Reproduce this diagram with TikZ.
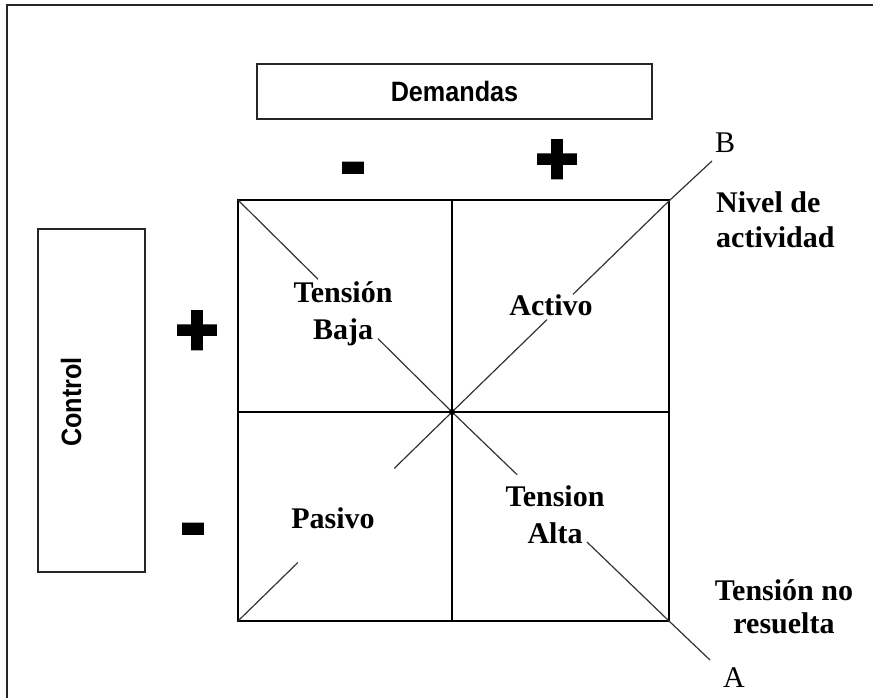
\documentclass[tikz,border=0pt]{standalone}
\usepackage{fontspec}
\usepackage{graphicx}
\usetikzlibrary{calc}
\setmainfont{Liberation Serif}
\newfontfamily\headsans{Liberation Sans}
\newfontfamily\signfont[FakeBold=5]{Liberation Sans Bold}

\tikzset{
  frameline/.style={line width=2pt, draw=black!85},
  boxline/.style={draw=black!85, line width=1.6pt},
  gridline/.style={line width=1.8pt, draw=black},
  diagline/.style={line width=1.2pt, draw=black!80},
  headtext/.style={font=\headsans\bfseries\fontsize{28}{30}\selectfont, inner sep=0pt},
  signtext/.style={font=\signfont\fontsize{72}{72}\selectfont, inner sep=0pt},
  quadtext/.style={font=\bfseries\fontsize{30}{37}\selectfont, align=center, inner sep=0pt, anchor=base},
  sidetext/.style={font=\bfseries\fontsize{30}{35}\selectfont, inner sep=0pt, anchor=base},
  endtext/.style={font=\fontsize{30}{36}\selectfont, inner sep=0pt, anchor=base},
}

\begin{document}
\begin{tikzpicture}[x=1pt, y=-1pt]
  \useasboundingbox (0,0) rectangle (873,698);

  % outer frame, running past the right and bottom edges
  \draw[frameline] (6.5,5) rectangle (890,720);

  % axis boxes
  \node[boxline, minimum width=395pt, minimum height=55pt, inner sep=0pt]
    (dem) at (454.5,91.5) {};
  \node[headtext] (demtxt) at (dem.center) {\scalebox{0.9}[1]{Demandas}};
  \node[boxline, minimum width=107pt, minimum height=343pt, inner sep=0pt]
    (ctlbox) at (91.5,400.5) {};
  \node[headtext, rotate=90] (ctl) at (71,402) {\scalebox{0.9}[1]{Control}};

  % signs on the axes
  \node[signtext] (dminus) at (353,175) {-};
  \node[signtext] (dplus)  at (557,162) {+};
  \node[signtext] (cplus)  at (197,333) {+};
  \node[signtext] (cminus) at (193,536) {-};

  % the square and its quadrants
  \coordinate (TL) at (238,200);
  \coordinate (TR) at (670,200);
  \coordinate (BL) at (238,621);
  \coordinate (BR) at (669,621);
  \coordinate (C)  at (452,412);
  \coordinate (Aend) at (710,660);
  \coordinate (Bend) at (712,161);
  \draw[gridline] (TL) rectangle (BR);
  \draw[gridline] (452,200) -- (452,621);
  \draw[gridline] (238,412) -- (669,412);

  % diagonal A: low tension to unresolved tension
  \coordinate (a1) at ($(TL)!0.374!(C)$);
  \coordinate (a2) at ($(TL)!0.654!(C)$);
  \coordinate (a3) at ($(C)!0.30!(BR)$);
  \coordinate (a4) at ($(C)!0.622!(BR)$);
  \draw[diagline] (TL) -- (a1);
  \draw[diagline] (a2) -- (C) -- (a3);
  \draw[diagline] (a4) -- (BR) -- (Aend);

  % diagonal B: passive to active
  \coordinate (b1) at ($(BL)!0.28!(C)$);
  \coordinate (b2) at ($(BL)!0.73!(C)$);
  \coordinate (b3) at ($(C)!0.436!(TR)$);
  \coordinate (b4) at ($(C)!0.555!(TR)$);
  \draw[diagline] (BL) -- (b1);
  \draw[diagline] (b2) -- (C) -- (b3);
  \draw[diagline] (b4) -- (TR) -- (Bend);

  \fill (C) circle (3pt);

  % quadrant labels (base = baseline of the last line)
  \node[quadtext] (baja)   at (343,339) {Tensión\\Baja};
  \node[quadtext] (activo) at (551,315) {Activo};
  \node[quadtext] (pasivo) at (333,528) {Pasivo};
  \node[quadtext] (alta)   at (555,543) {Tension\\Alta};

  % labels outside the square
  \node[endtext] (B) at (725,153) {B};
  \node[endtext] (A) at (734,687) {A};
  \node[sidetext, align=left, anchor=base west] (nivel) at (716,247) {Nivel de\\actividad};
  \node[sidetext, align=center, font=\bfseries\fontsize{30}{33}\selectfont] (noresuelta) at (784,633) {Tensión no\\resuelta};
\end{tikzpicture}
\end{document}
